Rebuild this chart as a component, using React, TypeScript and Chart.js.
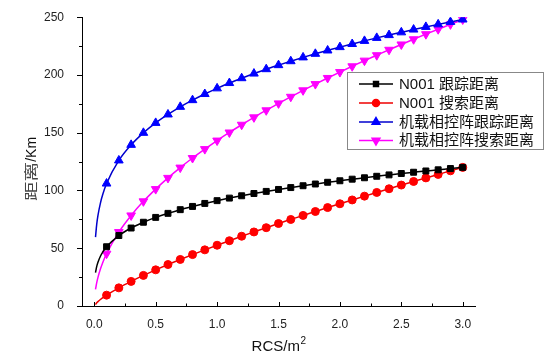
import React, { useEffect, useRef } from 'react';
import { Chart, registerables } from 'chart.js';
import { drawPoint } from 'chart.js/helpers';

Chart.register(...registerables);

// RCS values (m^2); markers are shown from 0.1 on
const rcs = [0.01, 0.02, 0.03, 0.05, 0.07,
  0.1, 0.2, 0.3, 0.4, 0.5, 0.6, 0.7, 0.8, 0.9, 1.0,
  1.1, 1.2, 1.3, 1.4, 1.5, 1.6, 1.7, 1.8, 1.9, 2.0,
  2.1, 2.2, 2.3, 2.4, 2.5, 2.6, 2.7, 2.8, 2.9, 3.0];

const trackN001 = [28.9, 34.3, 37.9, 43.1, 46.9,
  51.3, 61.0, 67.5, 72.5, 76.7, 80.2, 83.4, 86.2, 88.8, 91.2,
  93.4, 95.4, 97.4, 99.2, 100.9, 102.5, 104.1, 105.6, 107.1, 108.4,
  109.8, 111.0, 112.3, 113.5, 114.7, 115.8, 116.9, 117.9, 119.0, 120.0];

const searchN001 = [1.2, 2.8, 3.8, 5.6, 7.2,
  9.4, 15.7, 21.3, 26.5, 31.3, 35.9, 40.3, 44.5, 48.6, 52.6,
  56.5, 60.4, 64.1, 67.8, 71.4, 74.9, 78.4, 81.8, 85.2, 88.5,
  91.8, 95.1, 98.3, 101.5, 104.7, 107.8, 110.9, 113.9, 117.0, 120.0];

const trackAir = [59.6, 70.9, 78.4, 89.1, 96.9,
  106.0, 126.0, 139.5, 149.9, 158.5, 165.8, 172.4, 178.2, 183.5, 188.4,
  193.0, 197.2, 201.2, 205.0, 208.5, 211.9, 215.2, 218.3, 221.2, 224.1,
  226.8, 229.5, 232.1, 234.5, 236.9, 239.3, 241.6, 243.8, 245.9, 248.0];

const searchAir = [14.3, 20.2, 24.8, 32.0, 37.9,
  45.3, 64.0, 78.4, 90.6, 101.2, 110.9, 119.8, 128.1, 135.8, 143.2,
  150.2, 156.9, 163.3, 169.4, 175.4, 181.1, 186.7, 192.1, 197.4, 202.5,
  207.5, 212.4, 217.1, 221.8, 226.4, 230.9, 235.3, 239.6, 243.8, 248.0];

const seriesNames = ['N001 跟踪距离', 'N001 搜索距离', '机载相控阵跟踪距离', '机载相控阵搜索距离'];
const xTicks = [0, 0.5, 1.0, 1.5, 2.0, 2.5, 3.0];
const yTicks = [0, 50, 100, 150, 200, 250];
const xTitle = 'RCS/m';
const xTitleSup = '2';
const yTitleCJK = '距离';
const yTitleLatin = '/Km';

const FONT = '"Liberation Sans", "Noto Sans CJK SC", Arial, sans-serif';
const MARKER_MIN = 0.1 - 1e-9;

const styles = [
  { line: '#000000', fill: '#000000', pointStyle: 'rect', radius: 4.2, rotation: 0, legendRadius: 3.5 },
  { line: '#ee0000', fill: '#ff0000', pointStyle: 'circle', radius: 4, rotation: 0, legendRadius: 3.5 },
  { line: '#0000cc', fill: '#0000ff', pointStyle: 'triangle', radius: 5, rotation: 0, legendRadius: 4.5 },
  { line: '#ff00ff', fill: '#ff00ff', pointStyle: 'triangle', radius: 5, rotation: 180, legendRadius: 4.5 },
];

const seriesValues = [trackN001, searchN001, trackAir, searchAir];

const decorPlugin = {
  id: 'decor',
  afterDraw(chart: any) {
    const ctx = chart.ctx as CanvasRenderingContext2D;
    const xs = chart.scales.x;
    const ys = chart.scales.y;
    const area = chart.chartArea;
    ctx.save();
    // tick marks: x inward, y outward; major + minor
    ctx.strokeStyle = '#000';
    ctx.lineWidth = 1;
    ctx.beginPath();
    xTicks.forEach((v, i) => {
      const px = Math.round(xs.getPixelForValue(v)) + 0.5;
      ctx.moveTo(px, area.bottom);
      ctx.lineTo(px, area.bottom - 4);
      if (i < xTicks.length - 1) {
        const m = (v + xTicks[i + 1]) / 2;
        const pm = Math.round(xs.getPixelForValue(m)) + 0.5;
        ctx.moveTo(pm, area.bottom);
        ctx.lineTo(pm, area.bottom - 2.5);
      }
    });
    yTicks.forEach((v, i) => {
      const py = Math.round(ys.getPixelForValue(v)) + 0.5;
      ctx.moveTo(area.left, py);
      ctx.lineTo(area.left - 5, py);
      if (i < yTicks.length - 1) {
        const m = (v + yTicks[i + 1]) / 2;
        const pm = Math.round(ys.getPixelForValue(m)) + 0.5;
        ctx.moveTo(area.left, pm);
        ctx.lineTo(area.left - 3, pm);
      }
    });
    ctx.stroke();

    // x title
    ctx.fillStyle = '#111';
    ctx.font = `15px ${FONT}`;
    ctx.textBaseline = 'middle';
    ctx.textAlign = 'left';
    const w1 = ctx.measureText(xTitle).width;
    ctx.font = `10px ${FONT}`;
    const w2 = ctx.measureText(xTitleSup).width;
    const cx = (area.left + area.right) / 2;
    const x0 = cx - (w1 + w2) / 2;
    ctx.font = `15px ${FONT}`;
    ctx.fillText(xTitle, x0, 347);
    ctx.font = `10px ${FONT}`;
    ctx.fillText(xTitleSup, x0 + w1 + 0.5, 341);

    // y title (rotated)
    ctx.save();
    ctx.translate(32, 169);
    ctx.rotate(-Math.PI / 2);
    ctx.font = `14px ${FONT}`;
    const wl = ctx.measureText(yTitleLatin).width;
    const wc = ctx.measureText(yTitleCJK).width;
    const sx = 1.4;
    const total = wc * sx + wl;
    const start = -total / 2;
    ctx.save();
    ctx.translate(start, 0);
    ctx.scale(sx, 1);
    ctx.fillStyle = '#444';
    ctx.fillText(yTitleCJK, 0, 0);
    ctx.restore();
    ctx.fillStyle = '#111';
    ctx.fillText(yTitleLatin, start + wc * sx, 0);
    ctx.restore();

    // legend
    const bx = 347.5, by = 72.5, bw = 196, bh = 77;
    ctx.fillStyle = '#fff';
    ctx.fillRect(bx, by, bw, bh);
    ctx.strokeStyle = '#888';
    ctx.lineWidth = 1;
    ctx.strokeRect(bx, by, bw, bh);
    const rowY = [84, 103, 122, 140.5];
    seriesNames.forEach((name, i) => {
      const st = styles[i];
      const y = rowY[i];
      ctx.strokeStyle = st.line;
      ctx.lineWidth = 1.5;
      ctx.beginPath();
      ctx.moveTo(359, y);
      ctx.lineTo(393, y);
      ctx.stroke();
      ctx.fillStyle = st.fill;
      ctx.strokeStyle = st.fill;
      drawPoint(ctx, { pointStyle: st.pointStyle as any, rotation: st.rotation, radius: st.legendRadius, borderWidth: 1 }, 376, y);
      ctx.fillStyle = '#111';
      ctx.font = `15px ${FONT}`;
      ctx.textAlign = 'left';
      ctx.textBaseline = 'middle';
      ctx.fillText(name, 399, y + 0.5);
    });
    ctx.restore();
  },
};

export default function App() {
  const ref = useRef<HTMLCanvasElement | null>(null);
  useEffect(() => {
    if (!ref.current) return;
    const datasets = seriesValues.map((vals, i) => {
      const st = styles[i];
      return {
        label: seriesNames[i],
        data: rcs.map((x, k) => ({ x, y: vals[k] })),
        borderColor: st.line,
        backgroundColor: st.fill,
        borderWidth: 1.5,
        cubicInterpolationMode: 'monotone' as const,
        pointStyle: st.pointStyle as any,
        rotation: st.rotation,
        pointBackgroundColor: st.fill,
        pointBorderColor: st.fill,
        pointBorderWidth: 1,
        pointRadius: (c: any) => (rcs[c.dataIndex] >= MARKER_MIN ? st.radius : 0),
        fill: false,
      };
    });
    const chart = new Chart(ref.current, {
      type: 'line',
      data: { datasets },
      options: {
        animation: false,
        responsive: false,
        events: [],
        layout: { padding: { top: 17, right: 75, left: 0, bottom: 0 } },
        plugins: { legend: { display: false }, tooltip: { enabled: false } },
        scales: {
          x: {
            type: 'linear',
            min: -0.1,
            max: 3.1,
            grid: { display: false },
            border: { display: true, color: '#000', width: 1 },
            afterBuildTicks: (s: any) => { s.ticks = xTicks.map((v) => ({ value: v })); },
            afterFit: (s: any) => { s.height = 52; },
            ticks: {
              color: '#222',
              font: { family: FONT, size: 12 },
              padding: 3,
              maxRotation: 0,
              callback: (v: any) => Number(v).toFixed(1),
            },
          },
          y: {
            type: 'linear',
            min: 0,
            max: 250,
            grid: { display: false },
            border: { display: true, color: '#000', width: 1 },
            afterBuildTicks: (s: any) => { s.ticks = yTicks.map((v) => ({ value: v })); },
            afterFit: (s: any) => { s.width = 82; },
            ticks: {
              color: '#222',
              font: { family: FONT, size: 12 },
              padding: 10,
              callback: (v: any) => String(v),
            },
          },
        },
      },
      plugins: [decorPlugin],
    });
    return () => chart.destroy();
  }, []);
  return (
    <div style={{ position: 'absolute', left: 0, top: 0, width: 550, height: 358, background: '#fff' }}>
      <canvas ref={ref} width={550} height={358} style={{ width: 550, height: 358, display: 'block' }} />
    </div>
  );
}
